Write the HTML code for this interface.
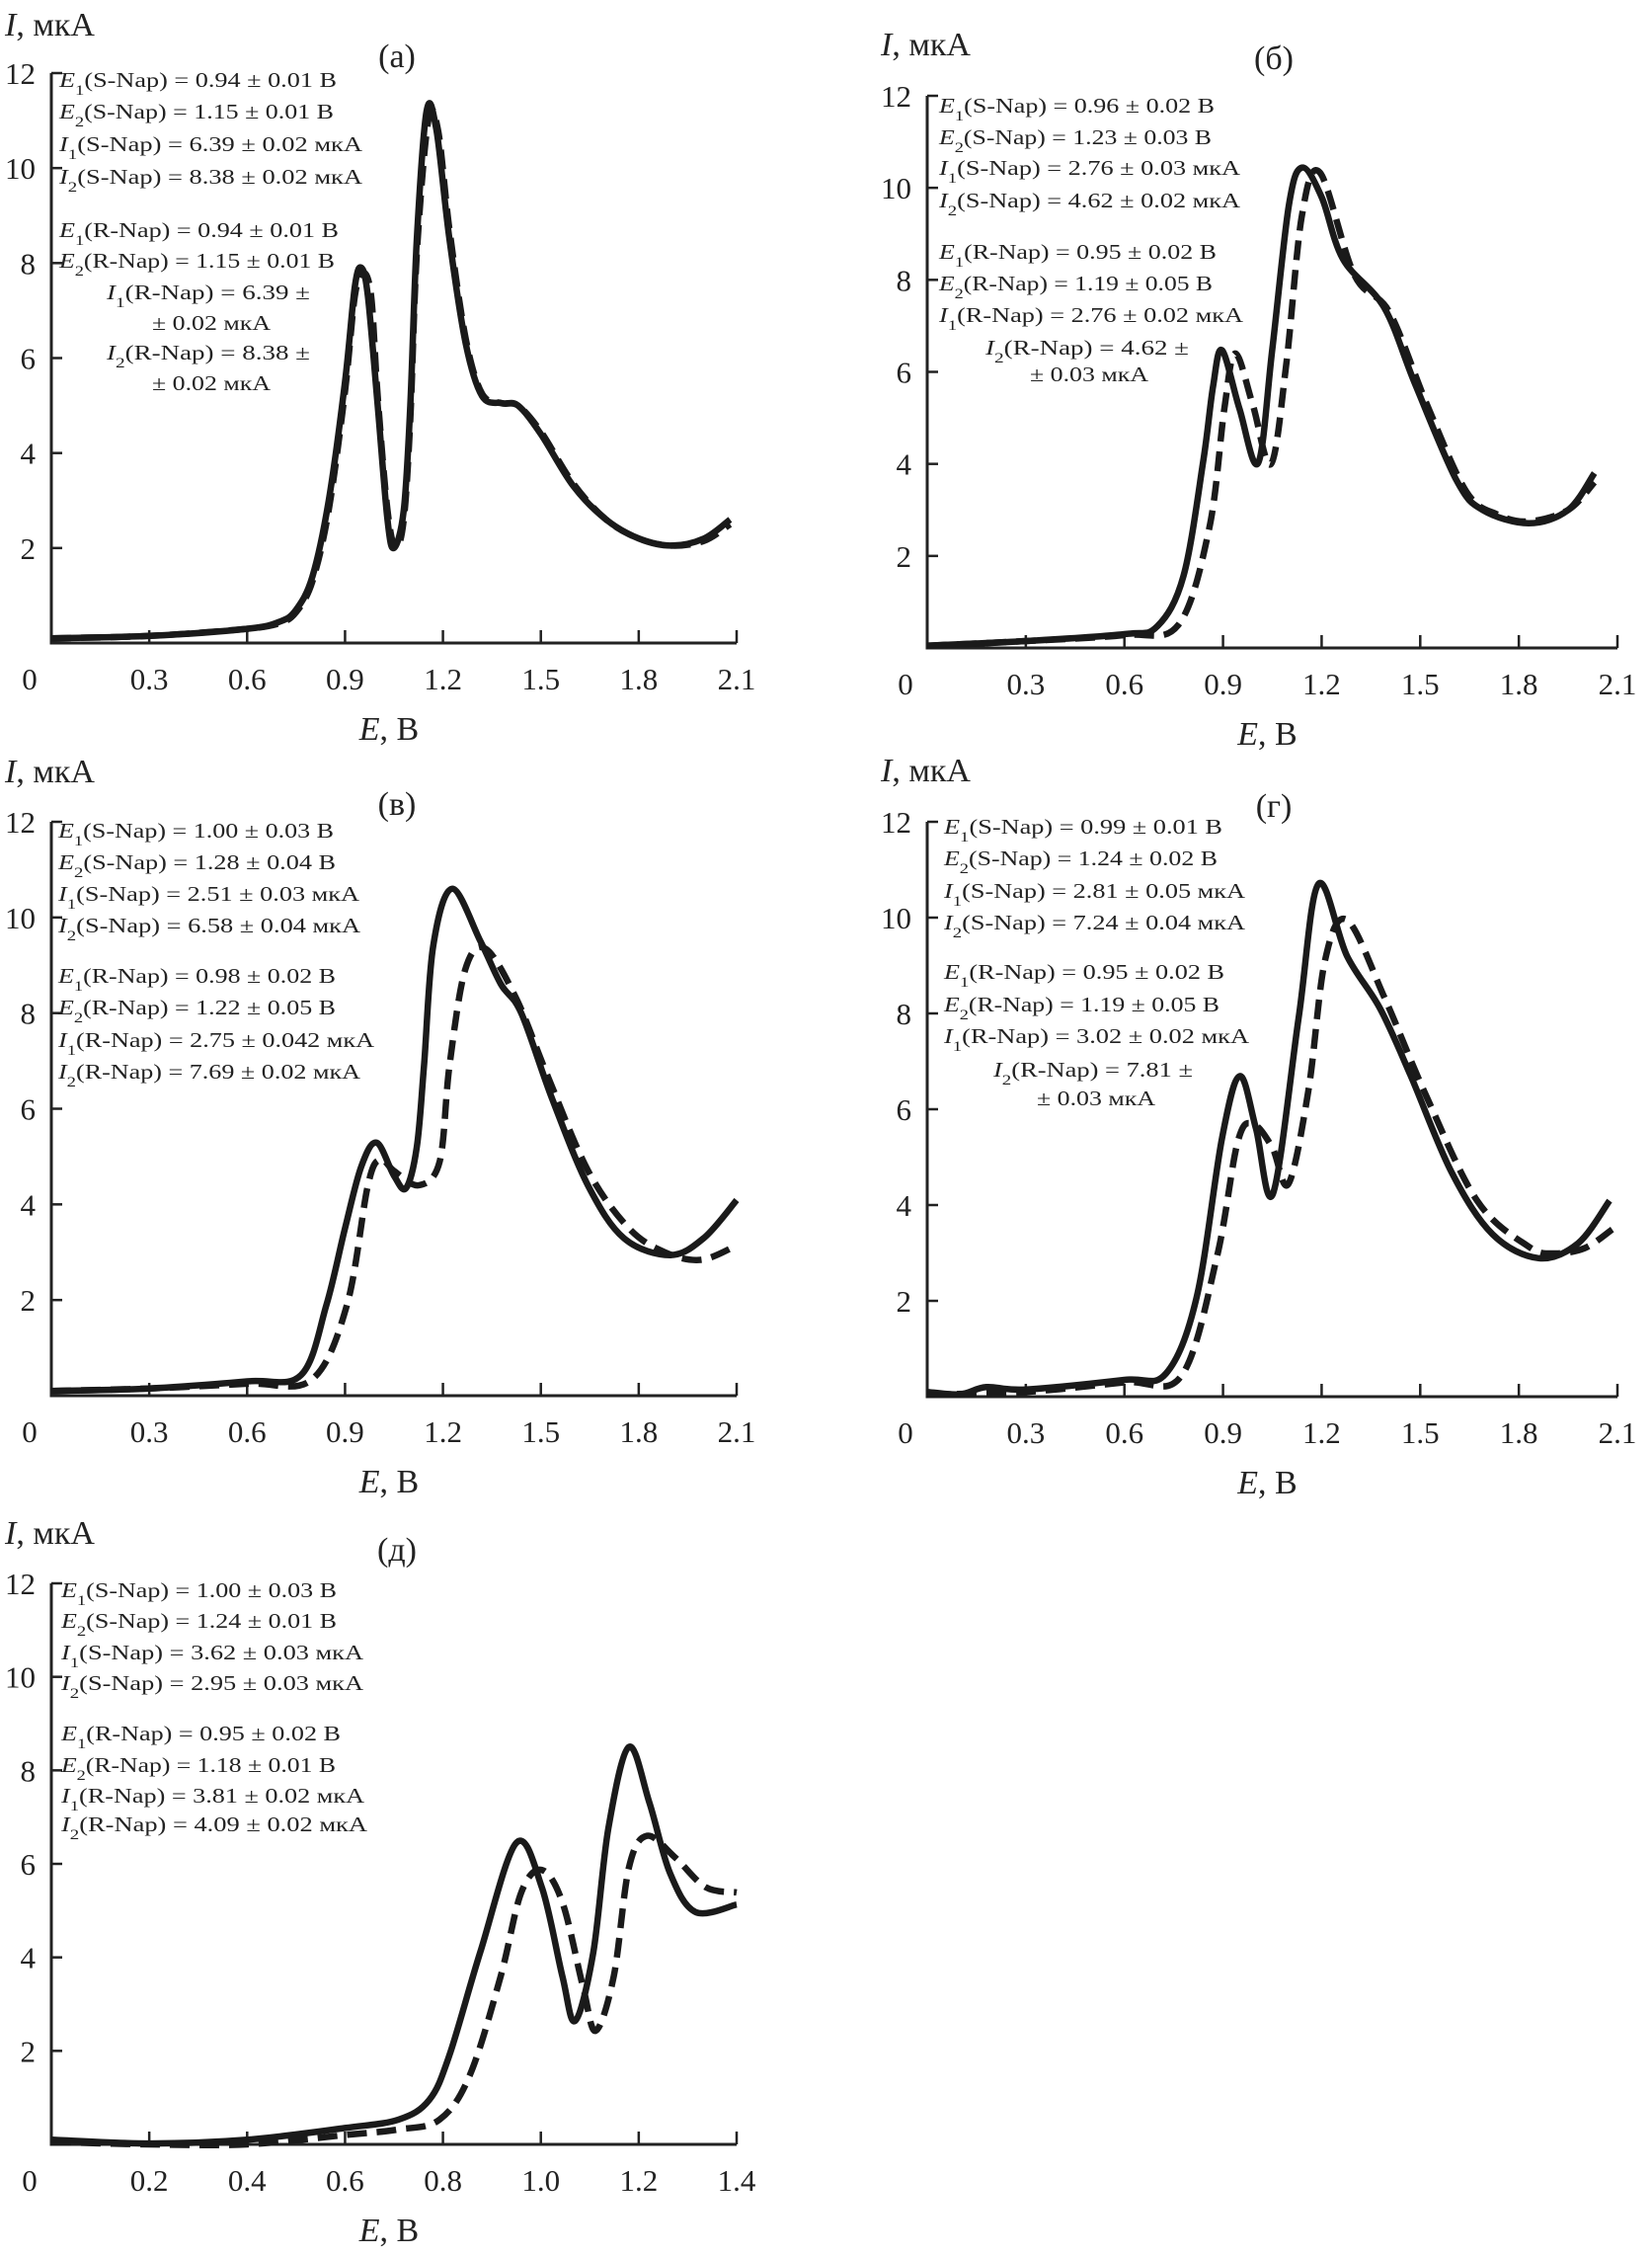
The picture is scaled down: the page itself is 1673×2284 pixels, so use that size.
<!DOCTYPE html>
<html><head><meta charset="utf-8">
<style>
html,body{margin:0;padding:0;background:#fff;}
svg{display:block;font-family:"Liberation Serif","DejaVu Serif",serif;}
</style></head>
<body>
<svg id="fig" width="1673" height="2284" viewBox="0 0 1673 2284" xmlns="http://www.w3.org/2000/svg"></svg>
<script>
// ---- data (E in V, I in µA) ----
const aSolidE=[0,0.3,0.6,0.7,0.75,0.8,0.85,0.9,0.93,0.95,0.97,1.0,1.03,1.05,1.08,1.1,1.12,1.15,1.18,1.22,1.27,1.32,1.38,1.43,1.5,1.6,1.7,1.8,1.9,2.0,2.08];
const aSolidI=[0.1,0.15,0.3,0.45,0.7,1.4,3.0,5.5,7.5,7.9,7.3,5.0,2.6,2.0,2.8,5.0,8.5,11.2,10.8,8.5,6.3,5.2,5.05,5.0,4.4,3.3,2.6,2.2,2.05,2.2,2.6];
const aDashE=[0,0.3,0.6,0.7,0.75,0.8,0.85,0.9,0.93,0.955,0.98,1.0,1.03,1.055,1.08,1.1,1.12,1.155,1.185,1.22,1.27,1.32,1.38,1.43,1.5,1.6,1.7,1.8,1.9,2.0,2.08];
const aDashI=[0.1,0.15,0.3,0.42,0.65,1.3,2.8,5.3,7.3,7.8,7.3,5.2,2.8,2.0,2.6,4.7,8.2,11.0,10.8,8.7,6.4,5.25,5.05,5.0,4.45,3.35,2.6,2.2,2.05,2.15,2.5];
const bSolidE=[0,0.3,0.6,0.7,0.78,0.84,0.87,0.897,0.95,1.007,1.05,1.1,1.14,1.2,1.265,1.39,1.484,1.61,1.69,1.83,1.95,2.03];
const bSolidI=[0.05,0.15,0.3,0.47,1.57,4.07,5.7,6.47,5.2,4.02,6.5,9.6,10.44,9.8,8.45,7.4,5.74,3.65,3.0,2.71,3.0,3.8];
const bDashE=[0,0.3,0.6,0.764,0.858,0.904,0.937,0.99,1.046,1.093,1.14,1.195,1.3,1.406,1.52,1.64,1.735,1.83,1.95,2.03];
const bDashI=[0.05,0.15,0.28,0.5,2.6,5.2,6.4,5.3,4.0,6.2,9.4,10.33,8.1,7.3,5.3,3.4,2.9,2.75,3.0,3.6];
const vSolidE=[0,0.3,0.6,0.765,0.843,0.9,0.95,0.997,1.05,1.087,1.12,1.142,1.17,1.228,1.315,1.378,1.44,1.535,1.645,1.755,1.896,2.0,2.1];
const vSolidI=[0.1,0.15,0.3,0.43,1.9,3.5,4.8,5.29,4.6,4.34,5.2,6.9,9.4,10.6,9.5,8.6,8.0,6.2,4.39,3.29,2.94,3.3,4.09];
const vDashE=[0,0.3,0.6,0.797,0.906,0.97,1.008,1.05,1.126,1.19,1.22,1.268,1.33,1.425,1.52,1.645,1.77,1.88,1.99,2.1];
const vDashI=[0.1,0.15,0.25,0.33,1.9,4.4,4.94,4.7,4.4,4.9,6.9,8.9,9.35,8.3,6.7,4.7,3.5,3.0,2.84,3.14];
const gSolidE=[0,0.1,0.18,0.3,0.6,0.726,0.82,0.897,0.951,1.0,1.052,1.13,1.19,1.277,1.378,1.471,1.595,1.72,1.86,1.98,2.076];
const gSolidI=[0.1,0.05,0.2,0.15,0.35,0.48,2.08,5.4,6.69,5.6,4.24,7.9,10.7,9.2,8.1,6.7,4.69,3.39,2.89,3.2,4.09];
const gDashE=[0,0.3,0.6,0.773,0.881,0.944,0.99,1.05,1.099,1.16,1.21,1.277,1.393,1.517,1.673,1.828,1.905,2.0,2.084];
const gDashI=[0.05,0.1,0.3,0.43,2.9,5.3,5.7,5.2,4.44,6.4,9.1,9.95,8.3,6.3,4.09,3.14,2.99,3.1,3.49];
const dSolidE=[0,0.2,0.4,0.6,0.709,0.772,0.813,0.876,0.95,1.002,1.044,1.07,1.107,1.138,1.18,1.222,1.264,1.316,1.4];
const dSolidI=[0.1,0.02,0.1,0.35,0.53,0.95,1.9,4.1,6.45,5.5,3.6,2.64,4.1,6.76,8.5,7.3,5.8,4.97,5.13];
const dDashE=[0,0.2,0.4,0.6,0.709,0.793,0.855,0.918,0.96,1.002,1.044,1.086,1.112,1.149,1.18,1.217,1.275,1.337,1.4];
const dDashI=[0.05,0.0,0.0,0.2,0.32,0.53,1.48,3.6,5.39,5.87,5.18,3.38,2.43,3.6,5.92,6.6,6.13,5.5,5.39];
const ticks21=["0","0.3","0.6","0.9","1.2","1.5","1.8","2.1"];
const ticks14=["0","0.2","0.4","0.6","0.8","1.0","1.2","1.4"];
const yTicks=[2,4,6,8,10,12];

const NS="http://www.w3.org/2000/svg";
const svg=document.getElementById('fig');
function mk(tag,attrs,parent){const e=document.createElementNS(NS,tag);for(const k in attrs)e.setAttribute(k,attrs[k]);(parent||svg).appendChild(e);return e;}
function pathFrom(pts){
  let d="M"+pts[0][0].toFixed(1)+","+pts[0][1].toFixed(1);
  for(let i=0;i<pts.length-1;i++){
    const p0=pts[Math.max(0,i-1)],p1=pts[i],p2=pts[i+1],p3=pts[Math.min(pts.length-1,i+2)];
    const c1=[p1[0]+(p2[0]-p0[0])/6,p1[1]+(p2[1]-p0[1])/6];
    const c2=[p2[0]-(p3[0]-p1[0])/6,p2[1]-(p3[1]-p1[1])/6];
    d+=" C"+c1[0].toFixed(1)+","+c1[1].toFixed(1)+" "+c2[0].toFixed(1)+","+c2[1].toFixed(1)+" "+p2[0].toFixed(1)+","+p2[1].toFixed(1);
  }
  return d;
}
function rich(g,x,y,len,segs,name){
  const t=mk('text',{x:x,y:y,'font-size':21,fill:'#222',textLength:len,lengthAdjust:'spacingAndGlyphs'},g);
  
  
  segs.forEach(s=>{
    const ts=mk('tspan',{},t);
    if(s[1])ts.setAttribute('font-style','italic');
    if(s[2]){ts.setAttribute('baseline-shift','sub');ts.setAttribute('font-size','15');}
    ts.textContent=s[0];
  });
}
const pm=" ± ";
function eq(n,iso,rest){return [[n[0],true],[n[1],false,true],["("+iso+"-Nap) = "+rest,false]];}
function pl(t){return [[t,false]];}

function panel(cfg){
  const g=mk('g',{});
  
  
  const sx=v=>cfg.x0+(v/cfg.xmax)*(cfg.x1-cfg.x0);
  const sy=v=>cfg.y0-(v/12)*(cfg.y0-cfg.y12);
  const axes=mk('path',{d:`M${cfg.x0},${sy(12)} V${cfg.y0} H${cfg.x1}`,fill:'none',stroke:'#222','stroke-width':3},g);
  
  
  cfg.xt.forEach((lab,i)=>{
    const xv=i*cfg.xmax/(cfg.xt.length-1);const X=sx(xv);
    if(i>0){const tk=mk('line',{x1:X,x2:X,y1:cfg.y0,y2:cfg.y0-13,stroke:'#222','stroke-width':2.5},g);
      
      }
    const t=mk('text',{x:i===0?cfg.x0-22:X,y:cfg.y0+47,'font-size':31,'text-anchor':'middle',fill:'#222'},g);
    
    
    t.textContent=lab;
  });
  yTicks.forEach(v=>{
    const Y=sy(v);
    const tk=mk('line',{x1:cfg.x0,x2:cfg.x0+11,y1:Y,y2:Y,stroke:'#222','stroke-width':2.5},g);
    
    
    const t=mk('text',{x:cfg.x0-16,y:Y+11,'font-size':31,'text-anchor':'end',fill:'#222'},g);
    
    
    t.textContent=String(v);
  });
  const yl=mk('text',{x:cfg.x0-47,y:cfg.ylY,'font-size':34,fill:'#222'},g);
  
  
  const i1=mk('tspan',{'font-style':'italic'},yl);i1.textContent='I';
  const i2=mk('tspan',{},yl);i2.textContent=', мкА';
  const xl=mk('text',{x:(cfg.x0+cfg.x1)/2-5,y:cfg.y0+98,'font-size':34,'text-anchor':'middle',fill:'#222'},g);
  
  
  const e1=mk('tspan',{'font-style':'italic'},xl);e1.textContent='E';
  const e2=mk('tspan',{},xl);e2.textContent=', В';
  const lb=mk('text',{x:cfg.plX,y:cfg.plY,'font-size':34,'text-anchor':'middle',fill:'#222'},g);
  
  
  lb.textContent=cfg.label;
  cfg.ann.forEach((a,k)=>rich(g,a[0],a[1],a[2],a[3],'annotation-line-'+(k+1)));
  const ps=cfg.sE.map((e,i)=>[sx(e),sy(cfg.sI[i])]);
  const pd=cfg.dE.map((e,i)=>[sx(e),sy(cfg.dI[i])]);
  const dl=mk('path',{d:pathFrom(pd),fill:'none',stroke:'#1a1a1a','stroke-width':6.5,'stroke-dasharray':'20,10'},g);
  
  
  const sl=mk('path',{d:pathFrom(ps),fill:'none',stroke:'#1a1a1a','stroke-width':6.5,'stroke-linejoin':'round'},g);
  
  
}

panel({name:'panel-a',label:'(а)',x0:52,x1:746,y0:651,y12:74,xmax:2.1,xt:ticks21,ylY:36,plX:402,plY:68,
  sE:aSolidE,sI:aSolidI,dE:aDashE,dI:aDashI,
  ann:[[60,88,281,eq("E1","S","0.94"+pm+"0.01 В")],[60,120,278,eq("E2","S","1.15"+pm+"0.01 В")],
       [60,153,307,eq("I1","S","6.39"+pm+"0.02 мкА")],[60,186,307,eq("I2","S","8.38"+pm+"0.02 мкА")],
       [60,240,283,eq("E1","R","0.94"+pm+"0.01 В")],[60,271,279,eq("E2","R","1.15"+pm+"0.01 В")],
       [108,303,206,eq("I1","R","6.39 ±")],[154,334,120,pl("± 0.02 мкА")],
       [108,364,206,eq("I2","R","8.38 ±")],[154,395,120,pl("± 0.02 мкА")]]});

panel({name:'panel-b',label:'(б)',x0:939,x1:1638,y0:656,y12:97,xmax:2.1,xt:ticks21,ylY:56,plX:1290,plY:70,
  sE:bSolidE,sI:bSolidI,dE:bDashE,dI:bDashI,
  ann:[[951,114,279,eq("E1","S","0.96"+pm+"0.02 В")],[951,146,276,eq("E2","S","1.23"+pm+"0.03 В")],
       [951,177,305,eq("I1","S","2.76"+pm+"0.03 мкА")],[951,210,305,eq("I2","S","4.62"+pm+"0.02 мкА")],
       [951,262,281,eq("E1","R","0.95"+pm+"0.02 В")],[951,294,277,eq("E2","R","1.19"+pm+"0.05 В")],
       [951,326,308,eq("I1","R","2.76"+pm+"0.02 мкА")],[998,359,206,eq("I2","R","4.62 ±")],
       [1043,386,120,pl("± 0.03 мкА")]]});

panel({name:'panel-v',label:'(в)',x0:52,x1:746,y0:1413,y12:832,xmax:2.1,xt:ticks21,ylY:792,plX:402,plY:825,
  sE:vSolidE,sI:vSolidI,dE:vDashE,dI:vDashI,
  ann:[[59,848,279,eq("E1","S","1.00"+pm+"0.03 В")],[59,880,281,eq("E2","S","1.28"+pm+"0.04 В")],
       [59,912,305,eq("I1","S","2.51"+pm+"0.03 мкА")],[59,944,306,eq("I2","S","6.58"+pm+"0.04 мкА")],
       [59,995,281,eq("E1","R","0.98"+pm+"0.02 В")],[59,1027,281,eq("E2","R","1.22"+pm+"0.05 В")],
       [59,1060,320,eq("I1","R","2.75"+pm+"0.042 мкА")],[59,1092,306,eq("I2","R","7.69"+pm+"0.02 мкА")]]});

panel({name:'panel-g',label:'(г)',x0:939,x1:1638,y0:1414,y12:832,xmax:2.1,xt:ticks21,ylY:791,plX:1290,plY:827,
  sE:gSolidE,sI:gSolidI,dE:gDashE,dI:gDashI,
  ann:[[956,844,282,eq("E1","S","0.99"+pm+"0.01 В")],[956,876,277,eq("E2","S","1.24"+pm+"0.02 В")],
       [956,909,305,eq("I1","S","2.81"+pm+"0.05 мкА")],[956,941,305,eq("I2","S","7.24"+pm+"0.04 мкА")],
       [956,991,284,eq("E1","R","0.95"+pm+"0.02 В")],[956,1024,279,eq("E2","R","1.19"+pm+"0.05 В")],
       [956,1056,309,eq("I1","R","3.02"+pm+"0.02 мкА")],[1006,1090,202,eq("I2","R","7.81 ±")],
       [1050,1119,120,pl("± 0.03 мкА")]]});

panel({name:'panel-d',label:'(д)',x0:52,x1:746,y0:2171,y12:1603,xmax:1.4,xt:ticks14,ylY:1563,plX:402,plY:1580,
  sE:dSolidE,sI:dSolidI,dE:dDashE,dI:dDashI,
  ann:[[62,1617,279,eq("E1","S","1.00"+pm+"0.03 В")],[62,1648,279,eq("E2","S","1.24"+pm+"0.01 В")],
       [62,1680,306,eq("I1","S","3.62"+pm+"0.03 мкА")],[62,1711,306,eq("I2","S","2.95"+pm+"0.03 мкА")],
       [62,1762,283,eq("E1","R","0.95"+pm+"0.02 В")],[62,1794,278,eq("E2","R","1.18"+pm+"0.01 В")],
       [62,1825,307,eq("I1","R","3.81"+pm+"0.02 мкА")],[62,1854,310,eq("I2","R","4.09"+pm+"0.02 мкА")]]});
</script>
</body></html>
